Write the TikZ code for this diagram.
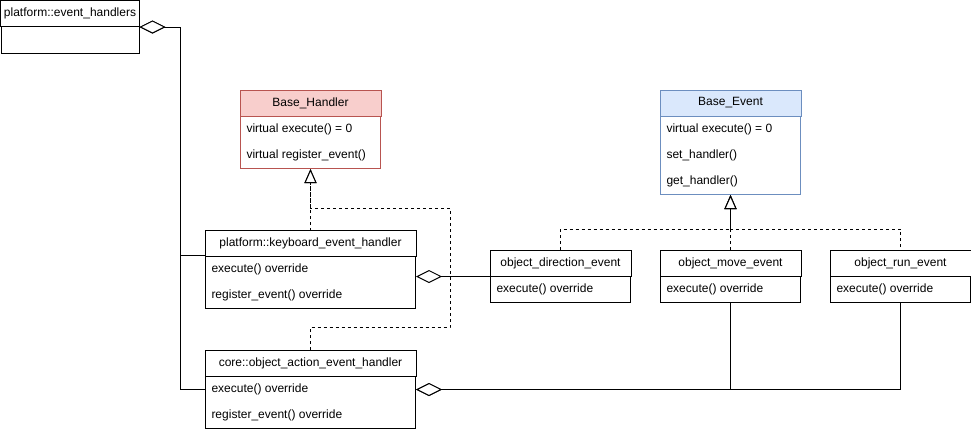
\documentclass[tikz,border=0pt]{standalone}
\usepackage{fontspec}
\setmainfont{Liberation Sans}
\usetikzlibrary{arrows.meta,calc}
\definecolor{redfill}{HTML}{F8CECC}
\definecolor{redline}{HTML}{B85450}
\definecolor{bluefill}{HTML}{DAE8FC}
\definecolor{blueline}{HTML}{6C8EBF}
\tikzset{
  inh/.style={dash pattern=on 3pt off 3pt, -{Triangle[fill=white, length=14pt, width=12pt]}},
  agg/.style={{Diamond[fill=white, length=26pt, width=13pt]}-},
  txt/.style={inner sep=0pt, font=\fontsize{12}{14}\selectfont},
}
\newcommand\umlcls[9]{%
  \node[draw=#8, fill=white, minimum width=#4pt, minimum height=#5pt, anchor=north west, inner sep=0pt] (#1) at (#2,#3) {};
  \filldraw[draw=#8, fill=#7] (#1.north west) rectangle ($(#1.north east)+(0,26)$);
  \node[txt] (#1-t) at ($(#1.north)+(0,13)$) {#6};
  \foreach \itm [count=\i] in {#9} {\node[txt, anchor=west] (#1-\i) at ($(#1.north west)+(6,13.5+26*\i)$) {\itm};}
}
\begin{document}
\begin{tikzpicture}[x=1pt,y=-1pt,line width=1pt]
\useasboundingbox (0,0) rectangle (971,432);
\umlcls{eh}{0.5}{0.5}{138}{52}{platform::event\_handlers}{white}{black}{}
\umlcls{bh}{240}{90}{140}{78}{Base\_Handler}{redfill}{redline}{virtual execute() = 0, virtual register\_event()}
\umlcls{be}{660}{90}{140}{104}{Base\_Event}{bluefill}{blueline}{virtual execute() = 0, set\_handler(), get\_handler()}
\umlcls{kb}{205}{230}{210}{78}{platform::keyboard\_event\_handler}{white}{black}{execute() override, register\_event() override}
\umlcls{core}{205}{350}{210}{78}{core::object\_action\_event\_handler}{white}{black}{execute() override, register\_event() override}
\umlcls{dir}{490}{250}{140}{52}{object\_direction\_event}{white}{black}{execute() override}
\umlcls{move}{660}{250}{140}{52}{object\_move\_event}{white}{black}{execute() override}
\umlcls{run}{830}{250}{140}{52}{object\_run\_event}{white}{black}{execute() override}
% aggregation
\coordinate (busL) at (180,0);
\draw[agg] (eh.east) -- (eh.east -| busL) |- ($(kb.north west)+(0,25)$);
\draw[agg] (eh.east) -- (eh.east -| busL) |- (core-1.west -| core.west);
\draw[agg] (dir.west -| kb.east) -- (dir.west);
\draw[agg] (core-1.west -| core.east) -| (move.south);
\draw[agg] (core-1.west -| core.east) -| (run.south);
% inheritance to Base_Event
\coordinate (ebus) at (0,229);
\draw[inh] (dir.north) |- (ebus -| be.south) -- (be.south);
\draw[inh] (move.north) -- (be.south);
\draw[inh, dash phase=3pt] (run.north) |- (ebus -| be.south) -- (be.south);
% inheritance to Base_Handler
\coordinate (hr) at (450,327);
\coordinate (ht) at (450,208);
\draw[inh, dash phase=1pt] (kb.north) -- (bh.south);
\draw[inh] (core.north) |- (hr) -- (ht) -- (ht -| bh.south) -- (bh.south);
\end{tikzpicture}
\end{document}
